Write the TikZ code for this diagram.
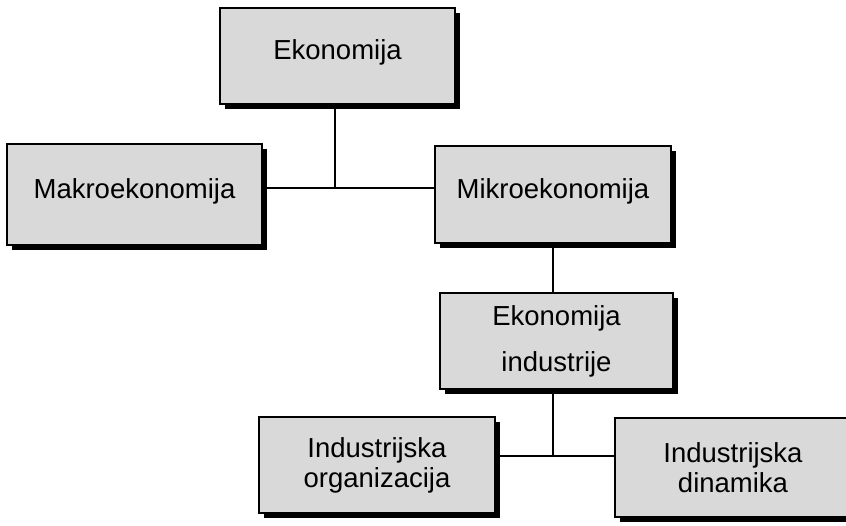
\documentclass[tikz,border=0pt]{standalone}
\usepackage{fontspec}
\setmainfont{Liberation Sans}
\usetikzlibrary{shadows}
\definecolor{boxgrey}{HTML}{D9D9D9}
\tikzset{
  box/.style={draw=black, line width=1.8pt, fill=boxgrey, rectangle, inner sep=0pt,
    align=center, font=\fontsize{27.5}{30}\selectfont,
    general shadow={fill=black, shadow xshift=5pt, shadow yshift=-5pt}},
  onebox/.style={box, text depth=12pt},
  link/.style={draw=black, line width=1.3pt}
}
\begin{document}
\begin{tikzpicture}[x=1pt,y=-1pt]
\useasboundingbox (0,0) rectangle (846,525);
\clip (0,0) rectangle (846,525);
\fill[white] (0,0) rectangle (846,525);
\node[onebox, minimum width=235pt, minimum height=96pt] (eko) at (337.5,56) {Ekonomija};
\node[onebox, minimum width=255pt, minimum height=101pt] (makro) at (134.5,194.5) {Makroekonomija};
\node[onebox, minimum width=236pt, minimum height=97pt] (mikro) at (553,194.5) {Mikroekonomija};
\node[box, minimum width=233pt, minimum height=96pt, font=\fontsize{27.5}{46}\selectfont] (ei) at (556.5,341) {Ekonomija\\industrije};
\node[box, minimum width=236pt, minimum height=96pt] (io) at (377,465) {Industrijska\\organizacija};
\node[box, minimum width=236pt, minimum height=99pt] (id) at (733,467.5) {Industrijska\\dinamika};
\coordinate (j1) at (335,188);
\coordinate (j2) at (553,456);
\draw[link] (eko.south -| j1) -- (j1);
\draw[link] (makro.east |- j1) -- (mikro.west |- j1);
\draw[link] (mikro.south -| j2) -- (ei.north -| j2);
\draw[link] (ei.south -| j2) -- (j2);
\draw[link] (io.east |- j2) -- (id.west |- j2);
\end{tikzpicture}
\end{document}
